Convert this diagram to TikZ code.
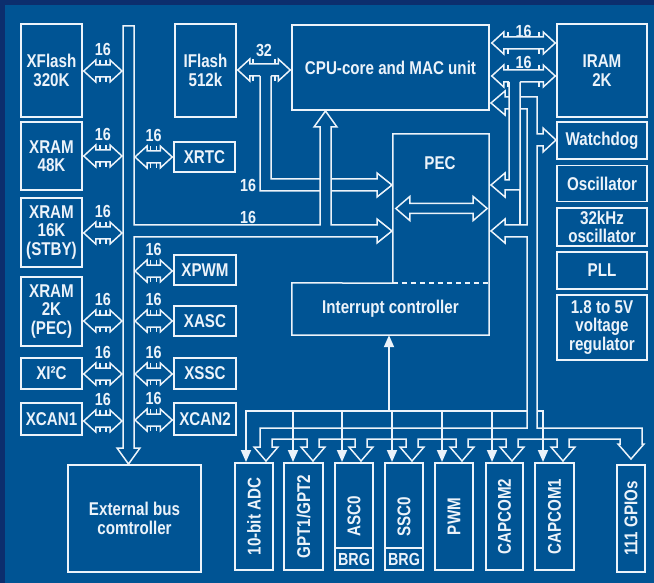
\documentclass[tikz,border=0pt]{standalone}
\usepackage{fontspec}
\newfontfamily\lbl{Liberation Sans Bold}[FakeStretch=0.82]
\usetikzlibrary{calc,arrows.meta}
\definecolor{bg}{RGB}{0,84,148}
\definecolor{bgdark}{RGB}{12,46,110}
\definecolor{fg}{RGB}{236,243,250}
\tikzset{
  blk/.style={draw=fg, line width=1.5pt, inner sep=0pt, align=center, text=fg,
    font=\lbl\fontsize{18.5}{18.5}\selectfont},
  txt/.style={text=fg, inner sep=0pt, align=center, font=\lbl\fontsize{18.5}{18.5}\selectfont},
  vtxt/.style={txt, rotate=90},
  num/.style={text=fg, inner sep=0pt, font=\lbl\fontsize{17.5}{17.5}\selectfont},
  busline/.style={draw=fg, line width=1.5pt, fill=bg, line join=miter},
  nick/.style={draw=fg, line width=1.5pt},
  sig/.style={draw=fg, line width=1.8pt},
  sigarrow/.style={sig, -{Triangle[length=12pt,width=10pt]}},
}
% horizontal double block arrow with bus-width ticks
\newcommand\hdarrow[5]{%
  \draw[busline] (#1) -- ++(12,-11) -- ++(0,5) -- ($(#2)+(-12,-6)$) -- ++(0,-5) -- (#2)
    -- ++(-12,11) -- ++(0,-5) -- ($(#1)+(12,6)$) -- ++(0,5) -- cycle;
  \draw[nick] ($(#1)!.5!(#2)+(-#3,-6)$) -- ++(0,-5)
    ($(#1)!.5!(#2)+(#3,-6)$) -- ++(0,-5)
    ($(#1)!.5!(#2)+(-#3,6)$) -- ++(0,5)
    ($(#1)!.5!(#2)+(#3,6)$) -- ++(0,5);
  \node[num] at ($(#1)!.5!(#2)+(0,#5)$) {#4};
}
\begin{document}
\begin{tikzpicture}[x=1pt,y=-1pt]
\useasboundingbox (0,0) rectangle (654,583);
\fill[bg] (0,0) rectangle (654,583);
\fill[bgdark] (0,0) rectangle (654,5);
\fill[bgdark] (0,0) rectangle (5,583);

% left column
\node[blk, minimum width=61, minimum height=93] (xflash) at (51.5,70.5) {XFlash\\320K};
\node[blk, minimum width=61, minimum height=68] (xram48) at (51.5,156) {XRAM\\48K};
\node[blk, minimum width=61, minimum height=69] (xram16) at (51.5,232.5) {XRAM\\16K\\(STBY)};
\node[blk, minimum width=61, minimum height=69] (xram2) at (51.5,311.5) {XRAM\\2K\\(PEC)};
\node[blk, minimum width=61, minimum height=31] (xi2c) at (51.5,373.5) {XI²C};
\node[blk, minimum width=61, minimum height=32] (xcan1) at (51.5,419) {XCAN1};

% middle column
\node[blk, minimum width=61, minimum height=93] (iflash) at (205.5,70.5) {IFlash\\512k};
\node[blk, minimum width=61, minimum height=30] (xrtc) at (204.5,157) {XRTC};
\node[blk, minimum width=62, minimum height=30] (xpwm) at (205,270) {XPWM};
\node[blk, minimum width=62, minimum height=30] (xasc) at (205,321) {XASC};
\node[blk, minimum width=62, minimum height=31] (xssc) at (205,373.5) {XSSC};
\node[blk, minimum width=62, minimum height=32] (xcan2) at (205,419) {XCAN2};

% CPU, PEC, interrupt controller
\node[blk, minimum width=197, minimum height=85] (cpu) at (390.5,67.5) {CPU-core and MAC unit};
\node[minimum width=96, minimum height=149, inner sep=0pt] (pec) at (441,208.5) {};
\node[minimum width=197, minimum height=52, inner sep=0pt] (intr) at (390.5,309) {};
\draw[fg, line width=1.5pt] (pec.south west) -- (pec.north west) -- (pec.north east)
  -- (intr.south east) -- (intr.south west) -- (intr.north west) -- (pec.south west);
\draw[fg, line width=1.5pt, dash pattern=on 5pt off 4pt] (pec.south west) -- (pec.south east);
\node[txt] at (440,163) {PEC};
\node[txt] at (intr.center) {Interrupt controller};

% right column
\node[blk, minimum width=90, minimum height=93] (iram) at (602,70.5) {IRAM\\2K};
\node[blk, minimum width=90, minimum height=37] (wdog) at (602,140.5) {Watchdog};
\node[blk, minimum width=90, minimum height=36] (osc) at (602,183.5) {Oscillator};
\node[blk, minimum width=90, minimum height=38] (osc32) at (602,227) {32kHz\\oscillator};
\node[blk, minimum width=90, minimum height=37] (pll) at (602,270.5) {PLL};
\node[blk, minimum width=90, minimum height=65] (vreg) at (602,327.5) {1.8 to 5V\\voltage\\regulator};

% external bus controller
\node[blk, minimum width=133, minimum height=107] (ebc) at (134.5,518.5) {External bus\\comtroller};

% bottom peripherals
\node[blk, minimum width=38, minimum height=107] (adc) at (254,516.5) {};
\node[blk, minimum width=39, minimum height=107] (gpt) at (303.5,516.5) {};
\node[blk, minimum width=38, minimum height=107] (asc) at (354,516.5) {};
\node[blk, minimum width=38, minimum height=107] (ssc) at (404,516.5) {};
\node[blk, minimum width=38, minimum height=107] (pwm) at (454,516.5) {};
\node[blk, minimum width=37, minimum height=107] (cc2) at (504.5,516.5) {};
\node[blk, minimum width=39, minimum height=107] (cc1) at (554.5,516.5) {};
\node[blk, minimum width=28, minimum height=107] (gpio) at (631,518.5) {};
\node[vtxt] at (adc.center) {10-bit ADC};
\node[vtxt] at (gpt.center) {GPT1/GPT2};
\node[vtxt] at (asc.center) {ASC0};
\node[vtxt] at (ssc.center) {SSC0};
\node[vtxt] at (pwm.center) {PWM};
\node[vtxt] at (cc2.center) {CAPCOM2};
\node[vtxt] at (cc1.center) {CAPCOM1};
\node[vtxt] at (gpio.center) {111 GPIOs};
\draw[nick] ($(asc.south west)+(0,-23)$) -- ($(asc.south east)+(0,-23)$);
\draw[nick] ($(ssc.south west)+(0,-23)$) -- ($(ssc.south east)+(0,-23)$);
\node[num] at ($(asc.south)+(0,-11.5)$) {BRG};
\node[num] at ($(ssc.south)+(0,-11.5)$) {BRG};

% bus edge references
\coordinate (busL) at (122,0);
\coordinate (busR) at (135,0);

% left side bus arrows
\coordinate (a1) at ($(xflash.east)+(1,0.5)$); \coordinate (b1) at (a1 -| busL);
\hdarrow{a1}{b1}{3}{16}{-22}
\coordinate (a2) at ($(xram48.east)+(1,0)$); \coordinate (b2) at (a2 -| busL);
\hdarrow{a2}{b2}{3}{16}{-22}
\coordinate (a3) at ($(xram16.east)+(1,0.5)$); \coordinate (b3) at (a3 -| busL);
\hdarrow{a3}{b3}{3}{16}{-22}
\coordinate (a4) at ($(xram2.east)+(1,9.5)$); \coordinate (b4) at (a4 -| busL);
\hdarrow{a4}{b4}{3}{16}{-22}
\coordinate (a5) at ($(xi2c.east)+(1,0.5)$); \coordinate (b5) at (a5 -| busL);
\hdarrow{a5}{b5}{3}{16}{-22}
\coordinate (a6) at ($(xcan1.east)+(1,2)$); \coordinate (b6) at (a6 -| busL);
\hdarrow{a6}{b6}{3}{16}{-22}

% right side bus arrows
\coordinate (c1) at ($(xrtc.west)+(-1,0)$); \coordinate (d1) at (c1 -| busR);
\hdarrow{d1}{c1}{3}{16}{-22}
\coordinate (c2) at ($(xpwm.west)+(-1,1)$); \coordinate (d2) at (c2 -| busR);
\hdarrow{d2}{c2}{3}{16}{-22}
\coordinate (c3) at ($(xasc.west)+(-1,0)$); \coordinate (d3) at (c3 -| busR);
\hdarrow{d3}{c3}{3}{16}{-22}
\coordinate (c4) at ($(xssc.west)+(-1,0.5)$); \coordinate (d4) at (c4 -| busR);
\hdarrow{d4}{c4}{3}{16}{-22}
\coordinate (c5) at ($(xcan2.west)+(-1,1)$); \coordinate (d5) at (c5 -| busR);
\hdarrow{d5}{c5}{3}{16}{-22}

% IFlash <-> CPU (32) with branch to PEC
\coordinate (f1) at ($(iflash.east)+(1,-0.5)$);
\coordinate (f2) at ($(f1 -| cpu.west)+(-1,0)$);
\hdarrow{f1}{f2}{11}{32}{-20}
\fill[bg] (260,75) -- (271,75) -- (271,179) -- (377,179) -- (377,173) -- (392,185)
  -- (377,197) -- (377,191) -- (260,191) -- cycle;
\draw[nick, line join=miter] (271,76) -- (271,179) -- (377,179) -- (377,173) -- (392,185)
  -- (377,197) -- (377,191) -- (260,191) -- (260,76);
\node[num] at (248,185) {16};

% main external bus with branch to CPU and PEC
\draw[busline] (123,26) -- (134,26) -- (134,225) -- (320,225) -- (320,127) -- (314,127)
  -- (325.5,111) -- (337,127) -- (331,127) -- (331,225) -- (377,225) -- (377,219)
  -- (392,231) -- (377,243) -- (377,237) -- (134,237) -- (134,448) -- (140,448)
  -- (128.5,464) -- (117,448) -- (123,448) -- cycle;
\node[num] at (248,217) {16};

% CPU <-> IRAM
\coordinate (r1) at ($(cpu.east)+(2,-24.5)$); \coordinate (r2) at ($(r1 -| iram.west)+(-1,0)$);
\hdarrow{r1}{r2}{15.5}{16}{-12}
\coordinate (r3) at ($(cpu.east)+(2,8.5)$); \coordinate (r4) at ($(r3 -| iram.west)+(-1,0)$);
\hdarrow{r3}{r4}{15.5}{16}{-14}

% PEC internal double arrow
\coordinate (p1) at ($(pec.west)+(3,0)$);
\coordinate (p2) at ($(pec.east)+(-2,0)$);
\draw[busline] (p1) -- ++(14,-12) -- ++(0,7) -- ($(p2)+(-14,-5)$) -- ++(0,-7) -- (p2)
  -- ++(-14,12) -- ++(0,-7) -- ($(p1)+(14,5)$) -- ++(0,7) -- cycle;

% peripheral bus: CPU, watchdog, PEC, peripherals, GPIOs
\draw[busline] (491,103) -- (505,91) -- (505,97) -- (537,97) -- (537,134) -- (543,134)
  -- (543,128) -- (556,140) -- (543,152) -- (543,146) -- (537,146) -- (537,428)
  -- (642,428) -- (642,444) -- (644,444) -- (631,459) -- (618,444) -- (620,444) -- (620,439)
  \foreach \c in {563,512,462,412,361,313,266} {
    -- (\c+6,439) -- (\c+6,447) -- (\c+12,447) -- (\c,461) -- (\c-12,447) -- (\c-6,447) -- (\c-6,439) }
  -- (260,428) -- (527,428) -- (527,237) -- (505,237) -- (505,243) -- (491,231) -- (505,219)
  -- (505,225) -- (527,225) -- (527,109) -- (505,109) -- (505,115) -- cycle;

% IRAM branch to PEC
\fill[bg] (509,81) -- (520,81) -- (520,190) -- (505,190) -- (505,197) -- (491,185)
  -- (505,173) -- (505,180) -- (509,180) -- cycle;
\draw[nick, line join=miter] (509,82) -- (509,180) -- (505,180) -- (505,173) -- (491,185)
  -- (505,197) -- (505,190) -- (520,190) -- (520,82);
\draw[nick] (520,190) -- (520,225);

% signal lines
\draw[sigarrow] (527,411) -- (246,411) -- (246,462);
\foreach \x in {293,342,392,442,492} \draw[sigarrow] (\x,411) -- (\x,462);
\draw[sigarrow] (537,411) -- (543,411) -- (543,462);
\coordinate (ia) at (389,411);
\draw[sigarrow] (ia) -- (ia |- intr.south);
\end{tikzpicture}
\end{document}
